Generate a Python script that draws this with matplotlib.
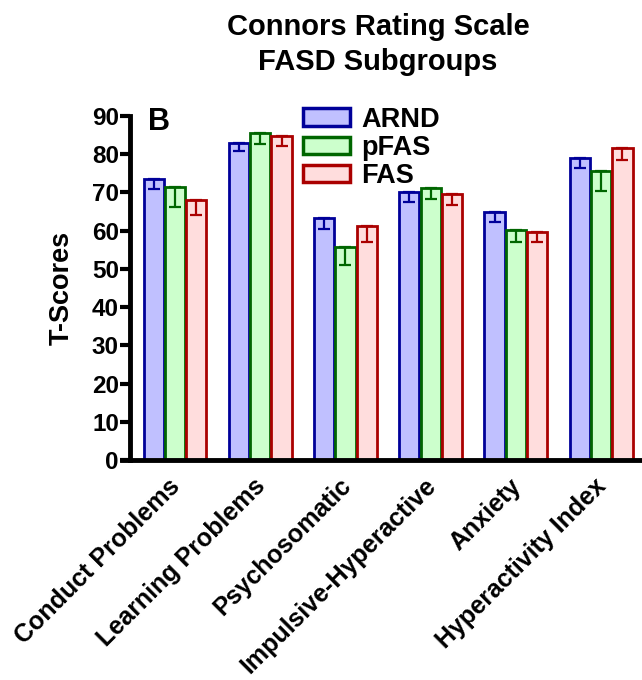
import numpy as np
import matplotlib
matplotlib.use("Agg")
import matplotlib.pyplot as plt
from matplotlib.patches import Patch
from matplotlib.transforms import ScaledTranslation

plt.rcParams['font.family'] = ['Liberation Sans', 'DejaVu Sans']
plt.rcParams['font.weight'] = 'bold'

categories = ["Conduct Problems", "Learning Problems", "Psychosomatic",
              "Impulsive-Hyperactive", "Anxiety", "Hyperactivity Index"]
groups = ["ARND", "pFAS", "FAS"]
arnd = [73.6, 83.0, 63.4, 70.0, 64.8, 79.1]
pfas = [71.3, 85.5, 55.7, 71.2, 60.1, 75.5]
fas = [68.1, 84.7, 61.3, 69.5, 59.6, 81.7]
arnd_err = [2.8, 2.1, 3.0, 2.6, 2.5, 2.6]
pfas_err = [5.1, 2.9, 4.7, 3.0, 3.0, 5.1]
fas_err = [3.9, 2.5, 4.2, 2.8, 2.5, 3.3]

faces = ["#C0C0FF", "#CCFFCC", "#FFDDDD"]
edges = ["#000099", "#006600", "#AA0000"]

fig = plt.figure(figsize=(6.42, 6.80), dpi=100)
ax = fig.add_axes([0.2025, 0.3235, 0.7975, 0.506])

x = np.arange(len(categories))
w = 0.25
series = [arnd, pfas, fas]
errs = [arnd_err, pfas_err, fas_err]
for i, (vals, err) in enumerate(zip(series, errs)):
    pos = x + (i - 1) * w
    ax.bar(pos, vals, width=w * 0.95, color=faces[i], edgecolor=edges[i],
           linewidth=2.0, zorder=2)
    ax.errorbar(pos, vals, yerr=[err, np.zeros(len(err))], fmt='none',
                ecolor=edges[i], elinewidth=1.6, capsize=4, capthick=1.6,
                zorder=3)

ax.set_ylim(0, 90)
ax.set_xlim(-0.528, 5.48)
ax.set_yticks(np.arange(0, 91, 10))
ax.tick_params(axis='y', labelsize=17.5, width=3, length=7, pad=1)
ax.tick_params(axis='x', length=0, labelsize=18, pad=10)
ax.set_xticks(x)
ax.set_xticklabels(categories, rotation=45, ha='right', va='top',
                   rotation_mode='anchor', fontweight='bold')
shift = ScaledTranslation(-5 / 72, 0, fig.dpi_scale_trans)
for lab in ax.get_xticklabels():
    lab.set_transform(lab.get_transform() + shift)
for lab in ax.get_yticklabels():
    lab.set_fontweight('bold')
for s in ['top', 'right']:
    ax.spines[s].set_visible(False)
ax.spines['left'].set_linewidth(3.5)
ax.spines['bottom'].set_linewidth(3.5)
ax.spines['bottom'].set_bounds(-0.62, 5.48)

ax.set_ylabel("T-Scores", fontsize=19.5, fontweight='bold', labelpad=12)

ax.text(0.035, 1.025, "B", transform=ax.transAxes, fontsize=22,
        fontweight='bold', va='top', ha='left')

handles = [Patch(facecolor=faces[i], edgecolor=edges[i], linewidth=2.5,
                 label=groups[i]) for i in range(3)]
fig.legend(handles=handles, loc='upper left', bbox_to_anchor=(0.472, 0.843),
           frameon=False, prop={'size': 19.5, 'weight': 'bold'},
           handlelength=1.75, handleheight=0.62, handletextpad=0.4,
           labelspacing=0.08, borderpad=0, borderaxespad=0)

fig.text(0.589, 0.981, "Connors Rating Scale\nFASD Subgroups", ha='center',
         va='top', fontsize=21, fontweight='bold', linespacing=1.3)

fig.savefig("out.png", dpi=100)
